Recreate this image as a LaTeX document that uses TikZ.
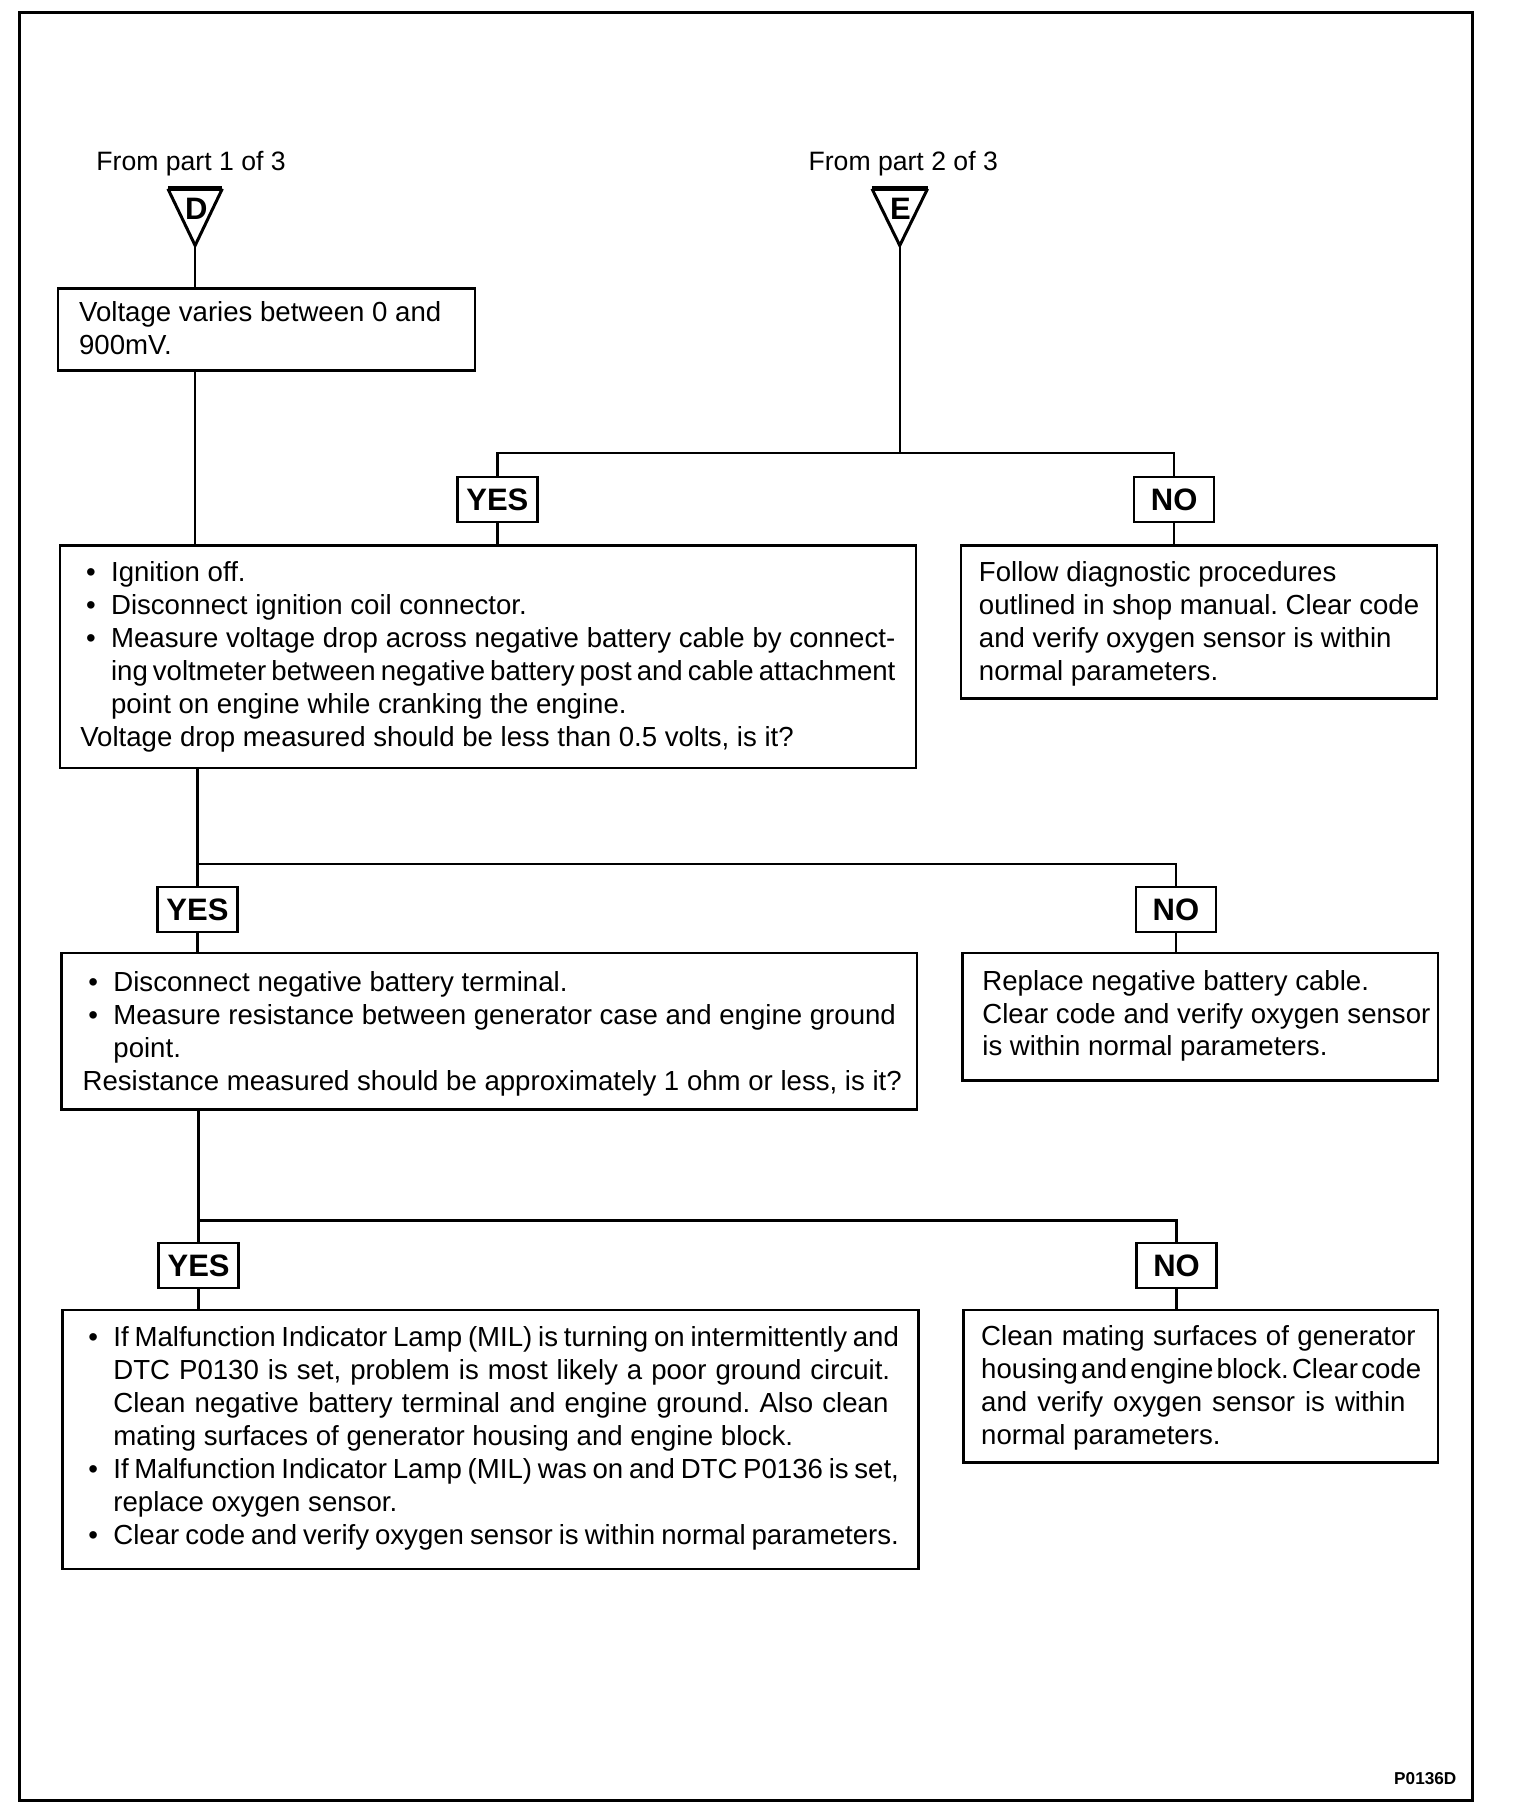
\documentclass[tikz,border=0pt]{standalone}
\usepackage{fontspec}
\setmainfont{Liberation Sans}
\newlength{\bhang}\setlength{\bhang}{15.4pt}
\newlength{\bsep}\setlength{\bsep}{2.9pt}
\newcommand{\bitem}[1]{\noindent\hangindent=\bhang\hangafter=1\relax\makebox[\bhang][l]{\hspace*{\bsep}\textbullet}#1\par}
\newcommand{\boxfont}{\fontsize{13.8pt}{16.47pt}\selectfont}
\newcommand{\bx}{\frenchspacing\spaceskip=0.278em plus 0.3em minus 0.26em\relax\hyphenpenalty=10000\relax\exhyphenpenalty=10000\relax\tolerance=10000\relax\pretolerance=-1\relax\emergencystretch=0pt\relax}
\newcommand{\ynfont}{\fontsize{15.5pt}{16pt}\selectfont\bfseries}
\newcommand{\trifont}{\fontsize{15.5pt}{16pt}\selectfont\bfseries}
\newcommand{\fromfont}{\fontsize{13.3pt}{15pt}\selectfont}
\newcommand{\idfont}{\fontsize{8.6pt}{10pt}\selectfont\bfseries}
\tikzset{
  frame/.style={line width=1.5pt},
  conn/.style={line width=1.2pt},
  boxr/.style={draw, line width=1.2pt, rectangle, inner sep=0pt, anchor=north west},
  txt/.style={inner sep=0pt, anchor=base west, font=\boxfont},
  yn/.style={draw, line width=1.2pt, rectangle, minimum width={69*0.579pt}, minimum height={39*0.579pt}, inner sep=0pt, font=\ynfont},
  tri/.style={line width=1.5pt, line join=miter},
  tritop/.style={line width=2.4pt},
}
\begin{document}
\begin{tikzpicture}[x=0.579pt,y=-0.579pt]
\useasboundingbox (0,0) rectangle (1312.6,1566.5);
\draw[frame] (16.5,10.5) rectangle (1272,1555);

% headers
\node[font=\fromfont, anchor=base, inner sep=0pt] (f1) at (165,147) {From part 1 of 3};
\node[font=\fromfont, anchor=base, inner sep=0pt] (f2) at (780,147) {From part 2 of 3};

% triangles
\coordinate (Dl) at (145,163); \coordinate (Dr) at (192,163); \coordinate (Dap) at (168.5,212);
\coordinate (El) at (753,163); \coordinate (Er) at (801,163); \coordinate (Eap) at (777,212);
\draw[tri] (Dl) -- (Dap) -- (Dr);
\draw[tritop] (Dl) -- (Dr);
\draw[tri] (El) -- (Eap) -- (Er);
\draw[tritop] (El) -- (Er);
\node[font=\trifont, inner sep=0pt] (Dlab) at (169.5,180.5) {D};
\node[font=\trifont, inner sep=0pt] (Elab) at (777.5,180.5) {E};

% boxes
\node[boxr, minimum width={360*0.579pt}, minimum height={71*0.579pt}] (b1) at (49,248) {};
\node[boxr, minimum width={739*0.579pt}, minimum height={192*0.579pt}] (b2) at (51,470) {};
\node[boxr, minimum width={411*0.579pt}, minimum height={132*0.579pt}] (n1) at (829,470) {};
\node[boxr, minimum width={739*0.579pt}, minimum height={135*0.579pt}] (b3) at (52,822) {};
\node[boxr, minimum width={411*0.579pt}, minimum height={110*0.579pt}] (n2) at (830,822) {};
\node[boxr, minimum width={739*0.579pt}, minimum height={224*0.579pt}] (b4) at (53,1130) {};
\node[boxr, minimum width={410*0.579pt}, minimum height={132*0.579pt}] (n3) at (831,1130) {};

% yes / no
\node[yn] (y1) at (429.5,431.5) {YES};
\node[yn] (no1) at (1014,431.5) {NO};
\node[yn] (y2) at (170.5,785.5) {YES};
\node[yn] (no2) at (1015.5,785.5) {NO};
\node[yn] (y3) at (171.5,1093) {YES};
\node[yn] (no3) at (1016,1093) {NO};

% texts
\node[txt, text width=191pt] (t1) at (68,278) {\bx Voltage varies between 0 and\newline 900mV.};
\node[txt, text width=407.6pt] (t2) at (69,502) {\bx
\bitem{Ignition off.}%
\bitem{Disconnect ignition coil connector.}%
\bitem{Measure voltage drop across negative battery cable by connect-\linebreak ing voltmeter between negative battery post and cable attachment\linebreak point on engine while cranking the engine.}%
\noindent Voltage drop measured should be less than 0.5 volts, is it?};
\node[txt, text width=225.8pt] (tn1) at (845,502) {\bx Follow diagnostic procedures\newline outlined in shop manual. Clear code\newline and verify oxygen sensor is within\newline normal parameters.};
\node[txt, text width=415.7pt] (t3) at (71,856) {\bx
\bitem{Disconnect negative battery terminal.}%
\bitem{Measure resistance between generator case and engine ground\newline point.}%
\noindent Resistance measured should be approximately 1 ohm or less, is it?};
\node[txt, text width=225.8pt] (tn2) at (848,855) {\bx Replace negative battery cable.\newline Clear code and verify oxygen sensor\newline is within normal parameters.};
\node[txt, text width=408.2pt] (t4) at (71,1163) {\bx
\bitem{If Malfunction Indicator Lamp (MIL) is turning on intermittently and\linebreak DTC P0130 is set, problem is most likely a poor ground circuit.\linebreak Clean negative battery terminal and engine ground. Also clean\linebreak mating surfaces of generator housing and engine block.}%
\bitem{If Malfunction Indicator Lamp (MIL) was on and DTC P0136 is set,\linebreak replace oxygen sensor.}%
\bitem{Clear code and verify oxygen sensor is within normal parameters.}};
\node[txt, text width=220pt] (tn3) at (847,1162) {\bx Clean mating surfaces of generator\linebreak housing and engine block. Clear code\linebreak and verify oxygen sensor is within\linebreak normal parameters.};

\node[font=\idfont, anchor=base east, inner sep=0pt] (id) at (1258,1541) {P0136D};

% connectors
\coordinate (j1) at (777,391);
\coordinate (j2) at (171,746);
\coordinate (j3) at (172,1054);
\draw[conn] (Dap) -- (Dap |- b1.north);
\draw[conn] (Dap |- b1.south) -- (Dap |- b2.north);
\draw[conn] (Eap) -- (j1);
\draw[conn] (y1.north) -- (y1.north |- j1) -- (no1.north |- j1) -- (no1.north);
\draw[conn] (y1.south) -- (y1.south |- b2.north);
\draw[conn] (no1.south) -- (no1.south |- n1.north);
\draw[conn] (y2.north |- b2.south) -- (y2.north);
\draw[conn] (j2) -- (no2.north |- j2) -- (no2.north);
\draw[conn] (y2.south) -- (y2.south |- b3.north);
\draw[conn] (no2.south) -- (no2.south |- n2.north);
\draw[conn] (y3.north |- b3.south) -- (y3.north);
\draw[conn] (j3) -- (no3.north |- j3) -- (no3.north);
\draw[conn] (y3.south) -- (y3.south |- b4.north);
\draw[conn] (no3.south) -- (no3.south |- n3.north);
\end{tikzpicture}
\end{document}
